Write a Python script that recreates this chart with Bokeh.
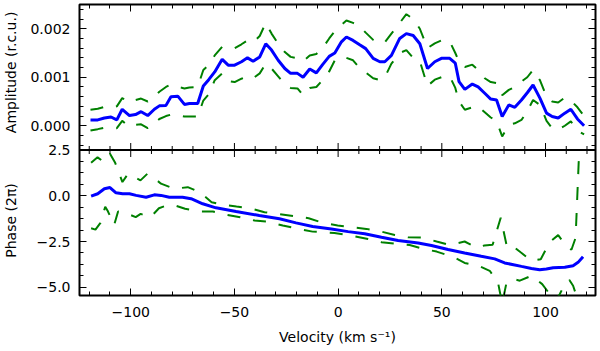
import math
from bokeh.plotting import figure
from bokeh.models import (Range1d, LinearAxis, FixedTicker, CustomJSTickFormatter, Span)
from bokeh.embed import file_html
from bokeh.resources import INLINE

# ---------------- data ----------------
vel_amp = [-119.4, -115.9, -112.7, -109.5, -106.7, -104.1, -100.6, -97.7, -95.0, -91.8,
           -88.6, -86.2, -83.0, -80.6, -77.3, -74.1, -71.7, -67.7, -65.0, -62.4,
           -59.5, -55.9, -53.0, -49.9, -46.6, -43.7, -41.0, -37.8, -34.9, -32.1,
           -28.9, -25.7, -22.9, -19.6, -16.9, -13.7, -10.5, -7.5, -4.3, -1.6,
           1.6, 4.0, 7.2, 10.4, 13.3, 16.9, 20.1, 22.5, 25.7, 29.7,
           32.9, 36.2, 39.4, 43.1, 46.6, 49.8, 53.8, 56.5, 58.3, 61.1,
           64.7, 67.5, 70.7, 73.6, 76.4, 79.1, 82.3, 85.2, 88.4, 91.2,
           94.0, 97.3, 100.5, 103.2, 106.1, 109.3, 112.2, 115.4, 118.6]

amp = [0.00012, 0.00012, 0.00016, 0.00018, 0.00012, 0.00034, 0.00021, 0.00023, 0.00029, 0.00021,
       0.00034, 0.00041, 0.00042, 0.00060, 0.00061, 0.00044, 0.00046, 0.00046, 0.00082, 0.00095,
       0.00111, 0.00137, 0.00125, 0.00125, 0.00132, 0.00140, 0.00133, 0.00142, 0.00169, 0.00156,
       0.00135, 0.00118, 0.00108, 0.00108, 0.00100, 0.00117, 0.00109, 0.00126, 0.00143, 0.00150,
       0.00173, 0.00183, 0.00176, 0.00167, 0.00159, 0.00139, 0.00132, 0.00132, 0.00145, 0.00180,
       0.00190, 0.00186, 0.00169, 0.00118, 0.00132, 0.00139, 0.00139, 0.00129, 0.00091, 0.00075,
       0.00086, 0.00080, 0.00067, 0.00055, 0.00053, 0.00019, 0.00043, 0.00038, 0.00053, 0.00068,
       0.00084, 0.00057, 0.00026, 0.00019, 0.00016, 0.00026, 0.00034, 0.00014, 0.00000]

amp_hi = [0.00033, 0.00035, 0.00039, 0.00037, 0.00040, 0.00057, 0.00048, 0.00053, 0.00056, 0.00050,
          0.00060, 0.00070, 0.00080, 0.00085, 0.00080, 0.00077, 0.00079, 0.00080, 0.00115, 0.00125,
          0.00145, 0.00163, 0.00160, 0.00160, 0.00168, 0.00176, 0.00172, 0.00185, 0.00212, 0.00190,
          0.00169, 0.00152, 0.00142, 0.00139, 0.00133, 0.00145, 0.00148, 0.00160, 0.00180, 0.00195,
          0.00208, 0.00217, 0.00212, 0.00205, 0.00192, 0.00177, 0.00170, 0.00172, 0.00190, 0.00212,
          0.00230, 0.00220, 0.00200, 0.00160, 0.00170, 0.00176, 0.00174, 0.00150, 0.00132, 0.00121,
          0.00126, 0.00115, 0.00098, 0.00090, 0.00088, 0.00063, 0.00074, 0.00080, 0.00091, 0.00100,
          0.00115, 0.00094, 0.00060, 0.00050, 0.00048, 0.00058, 0.00052, 0.00038, 0.00020]

amp_lo = [-0.00010, -0.00007, -0.00004, -0.00005, -0.00005, 0.00010, -0.00002, 0.00002, 0.00003, -0.00005,
          0.00005, 0.00014, 0.00020, 0.00023, 0.00022, 0.00019, 0.00019, 0.00019, 0.00052, 0.00065,
          0.00094, 0.00108, 0.00092, 0.00090, 0.00097, 0.00102, 0.00098, 0.00108, 0.00128, 0.00118,
          0.00102, 0.00085, 0.00078, 0.00077, 0.00063, 0.00078, 0.00080, 0.00094, 0.00112, 0.00135,
          0.00142, 0.00140, 0.00135, 0.00119, 0.00110, 0.00098, 0.00094, 0.00100, 0.00128, 0.00150,
          0.00156, 0.00140, 0.00133, 0.00082, 0.00095, 0.00100, 0.00102, 0.00078, 0.00050, 0.00033,
          0.00038, 0.00040, 0.00028, 0.00017, 0.00010, -0.00022, 0.00002, 0.00005, 0.00012, 0.00030,
          0.00053, 0.00043, 0.00010, -0.00005, -0.00008, 0.00000, 0.00009, -0.00010, -0.00018]

vel_ph = [-119.1, -115.9, -112.7, -110.0, -107.1, -103.9, -100.6, -97.4, -92.6, -88.6,
          -85.4, -81.4, -75.0, -70.9, -65.3, -58.9, -49.2, -38.0, -28.3, -20.3,
          -12.3, -3.2, 4.8, 12.8, 20.9, 28.9, 38.6, 45.0, 53.0, 61.0,
          69.0, 75.5, 80.3, 88.4, 93.2, 97.2, 100.4, 103.7, 109.3, 113.3,
          115.7, 118.1]
phase = [-0.02, 0.11, 0.38, 0.45, 0.16, 0.11, 0.11, 0.02, -0.08, 0.05,
         0.02, -0.08, -0.08, -0.16, -0.44, -0.66, -0.86, -1.08, -1.26, -1.48,
         -1.68, -1.82, -1.96, -2.08, -2.27, -2.45, -2.58, -2.72, -2.94, -3.13,
         -3.31, -3.45, -3.67, -3.86, -3.97, -4.04, -4.00, -3.93, -3.91, -3.82,
         -3.64, -3.33]

vel_ph_hi = [-119.1, -116.0, -113.0, -110.0, -107.5, -104.0, -101.3, -98.0, -95.3, -92.0,
             -88.5, -85.4, -78.9, -72.5, -66.8, -61.0, -55.0, -49.0, -42.5, -35.5,
             -29.0, -20.6, -14.2, -7.4, -0.2, 6.4, 13.6, 20.9, 27.3, 33.7,
             41.0, 47.5, 53.9, 61.0, 66.6, 70.5, 74.5, 78.4, 81.5, 85.0,
             88.0, 93.2, 97.7, 102.0, 106.1, 109.3, 112.5, 114.5, 116.0, 116.8]
phase_hi = [1.80, 2.10, 1.85, 2.30, 1.80, 0.75, 1.20, 1.00, 0.84, 1.20,
            0.95, 0.66, 0.38, 0.47, 0.20, -0.35, -0.50, -0.59, -0.68, -0.90,
            -0.99, -1.12, -1.23, -1.48, -1.62, -1.72, -1.81, -1.96, -2.14, -2.27,
            -2.29, -2.50, -2.69, -2.50, -2.82, -2.72, -2.68, -1.20, -2.85, -2.82,
            -3.09, -3.55, -3.47, -2.53, -2.15, -2.64, -2.95, -2.30, 1.84, 2.45]

vel_ph_lo = [-119.1, -117.0, -114.6, -112.3, -111.0, -108.0, -106.1, -103.0, -100.3, -97.6,
             -95.2, -92.5, -90.4, -86.4, -82.0, -78.6, -73.8, -66.8, -60.4, -53.6,
             -47.2, -40.4, -34.0, -26.7, -20.3, -12.3, -1.8, 6.4, 14.4, 20.9,
             28.0, 34.5, 41.0, 47.5, 56.0, 61.0, 67.5, 73.1, 77.1, 79.1,
             81.2, 84.5, 87.6, 93.2, 98.4, 102.0, 104.5, 106.9, 109.3, 111.5,
             113.3, 114.9, 116.5]
phase_lo = [-1.78, -1.85, -1.48, -0.60, -0.85, -1.60, -0.86, -0.90, -1.04, -1.17,
            -0.99, -1.10, -1.17, -0.68, -0.50, -0.53, -0.71, -0.86, -0.86, -1.04,
            -1.17, -1.35, -1.41, -1.63, -1.78, -1.96, -2.03, -2.18, -2.36, -2.54,
            -2.63, -2.69, -2.90, -3.05, -3.37, -3.67, -3.82, -4.10, -4.74, -5.90,
            -4.74, -4.55, -4.64, -4.37, -4.83, -5.37, -5.80, -5.37, -4.83, -4.60,
            -4.92, -5.46, -5.90]

x_major = [-100, -50, 0, 50, 100]
x_minor = [-120, -110, -90, -80, -70, -60, -40, -30, -20, -10,
           10, 20, 30, 40, 60, 70, 80, 90, 110, 120]
amp_major = [0.0, 0.001, 0.002]
amp_minor = [-0.0004, -0.0002, 0.0002, 0.0004, 0.0006, 0.0008, 0.0012, 0.0014,
             0.0016, 0.0018, 0.0022, 0.0024]
ph_major = [-5.0, -2.5, 0.0, 2.5]
ph_minor = [-4.375, -3.75, -3.125, -1.875, -1.25, -0.625, 0.625, 1.25, 1.875]

amp_title = "Amplitude (r.c.u.)"
phase_title = "Phase (2\u03c0)"
x_title = "Velocity (km s\u207b\u00b9)"

# ---------------- layout of the two stacked panels ----------------
A_LO, A_HI = -0.0005, 0.0025          # amplitude panel range
P_LO, P_HI = -5.45, 2.5               # phase panel range
A_BOT = A_LO - (A_HI - A_LO)          # amplitude scale extended over lower panel
P_TOP = P_HI + (P_HI - P_LO)          # phase scale extended over upper panel
X_LO, X_HI = -124.7, 124.1
AMP_TITLE_AT = 0.0011                 # where the panel titles are centred
PH_TITLE_AT = -1.35


def a_of_p(pv):
    return A_BOT + (pv - P_LO) * (A_LO - A_BOT) / (P_HI - P_LO)


FONT = "DejaVu Sans"
GREEN = "#008000"
BLUE = "#0000ff"

p = figure(width=600, height=351, output_backend="svg", toolbar_location=None,
           x_range=Range1d(X_LO, X_HI), y_range=Range1d(A_BOT, A_HI),
           x_axis_type=None, y_axis_type=None,
           min_border_left=78, min_border_right=5, min_border_top=4, min_border_bottom=56)
p.extra_y_ranges = {"phase": Range1d(P_LO, P_TOP)}
p.outline_line_color = "black"
p.outline_line_width = 2
p.background_fill_color = "white"
p.border_fill_color = "white"

y_ticker = FixedTicker(ticks=amp_major + [a_of_p(t) for t in ph_major],
                       minor_ticks=amp_minor + [a_of_p(t) for t in ph_minor])
x_ticker = FixedTicker(ticks=x_major, minor_ticks=x_minor)

y_fmt = CustomJSTickFormatter(args=dict(A_LO=A_LO, A_BOT=A_BOT, P_LO=P_LO, P_HI=P_HI), code="""
    if (tick > A_LO + 0.00001) { return tick.toFixed(3); }
    let v = P_LO + (tick - A_BOT) * (P_HI - P_LO) / (A_LO - A_BOT);
    v = Math.round(v * 8) / 8;
    if (Math.abs(v) < 1e-9) { v = 0; }
    return v.toFixed(1).replace('-', '\u2212');
""")
x_fmt = CustomJSTickFormatter(code="return tick.toFixed(0).replace('-', '\u2212');")
blank = CustomJSTickFormatter(code="return '';")
title_fmt = CustomJSTickFormatter(args=dict(A_LO=A_LO, amp_t=amp_title, ph_t=phase_title),
                                  code="return tick > A_LO ? amp_t : ph_t;")

tick_style = dict(axis_line_color=None, major_tick_in=7, major_tick_out=0,
                  minor_tick_in=4, minor_tick_out=0,
                  major_tick_line_color="black", minor_tick_line_color="black")

left = LinearAxis(ticker=y_ticker, formatter=y_fmt, major_label_standoff=9,
                  major_label_text_font=FONT, major_label_text_font_size="14px",
                  major_label_text_color="black", **tick_style)
# outer left "axis" that only carries the two panel titles
left_titles = LinearAxis(ticker=FixedTicker(ticks=[AMP_TITLE_AT, a_of_p(PH_TITLE_AT)], minor_ticks=[]),
                         formatter=title_fmt, major_label_orientation="parallel",
                         major_label_standoff=8, axis_line_color=None,
                         major_tick_in=0, major_tick_out=0, major_tick_line_color=None,
                         minor_tick_line_color=None,
                         major_label_text_font=FONT, major_label_text_font_size="14px",
                         major_label_text_color="black")
right = LinearAxis(ticker=y_ticker, formatter=blank, major_label_standoff=0,
                   major_label_text_font_size="0px", **tick_style)
below = LinearAxis(ticker=x_ticker, formatter=x_fmt, major_label_standoff=11,
                   major_label_text_font=FONT, major_label_text_font_size="14px",
                   major_label_text_color="black",
                   axis_label=x_title, axis_label_standoff=9,
                   axis_label_text_font=FONT, axis_label_text_font_size="14px",
                   axis_label_text_font_style="normal", axis_label_text_color="black",
                   **tick_style)
above = LinearAxis(ticker=x_ticker, formatter=blank, major_label_standoff=0,
                   major_label_text_font_size="0px", **tick_style)
p.add_layout(left, "left")
p.add_layout(left_titles, "left")
p.add_layout(right, "right")
p.add_layout(below, "below")
p.add_layout(above, "above")

# boundary between the panels, with ticks pointing into both panels
p.add_layout(Span(location=A_LO, dimension="width", line_color="black", line_width=2))
p.scatter(x=x_major, y=[A_LO] * len(x_major), marker="dash", angle=math.pi / 2,
          size=14, line_color="black", line_width=1)
p.scatter(x=x_minor, y=[A_LO] * len(x_minor), marker="dash", angle=math.pi / 2,
          size=8, line_color="black", line_width=1)

# amplitude panel
p.line(vel_amp, amp_hi, line_color=GREEN, line_width=2, line_dash="13 13")
p.line(vel_amp, amp_lo, line_color=GREEN, line_width=2, line_dash="13 13")
p.line(vel_amp, amp, line_color=BLUE, line_width=3)

# phase panel
p.line(vel_ph_hi, phase_hi, line_color=GREEN, line_width=2, line_dash="13 13", y_range_name="phase")
p.line(vel_ph_lo, phase_lo, line_color=GREEN, line_width=2, line_dash="13 13", y_range_name="phase")
p.line(vel_ph, phase, line_color=BLUE, line_width=3, y_range_name="phase")

open("out.html", "w").write(file_html(p, INLINE))
